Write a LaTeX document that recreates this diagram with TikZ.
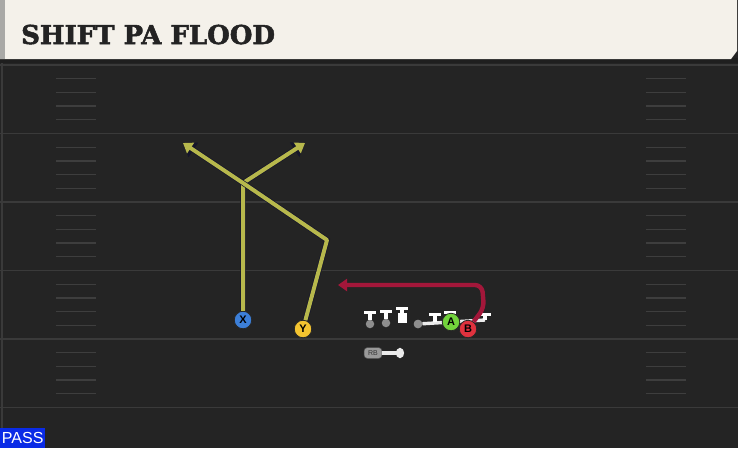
\documentclass[tikz,border=0pt]{standalone}
\usepackage{fontspec}
\usetikzlibrary{arrows.meta,positioning,calc}
\newfontfamily\titlefont{DejaVu Serif}[BoldFeatures={FakeBold=2}]
\newfontfamily\tagfont{Liberation Sans}
\definecolor{fieldbg}{HTML}{242424}
\definecolor{yardgray}{HTML}{3A3A3A}
\definecolor{hashgray}{HTML}{3E3E3E}
\definecolor{cream}{HTML}{F4F1EA}
\definecolor{stripgray}{HTML}{A9A9A6}
\definecolor{titleink}{HTML}{232323}
\definecolor{routeyel}{HTML}{B7B84C}
\definecolor{routered}{HTML}{A3173A}
\definecolor{routeedge}{HTML}{15152A}
\definecolor{xblue}{HTML}{3C7FD8}
\definecolor{yyellow}{HTML}{F4C430}
\definecolor{agreen}{HTML}{72D33C}
\definecolor{bred}{HTML}{E0323E}
\definecolor{passblue}{HTML}{0A2BE6}
\definecolor{olgray}{HTML}{8E8E8E}

\begin{document}
\begin{tikzpicture}[x=1pt, y=-1pt,
    yardline/.style={draw=yardgray, line width=1.8pt},
    hashmark/.style={draw=hashgray, line width=1.3pt},
    player/.style={circle, draw=black!85, line width=0.8pt, minimum size=17.5pt,
      inner sep=0pt, font=\tagfont\bfseries\fontsize{11}{11}\selectfont},
    route/.style={line width=4pt, line join=round, draw=routeyel,
      -{Triangle[length=0pt 2.3, width=0pt 3.1]},
      preaction={draw=routeedge, line width=5.4pt}},
    redroute/.style={line width=4.4pt, line join=round, draw=routered,
      rounded corners=7pt, -{Triangle[length=0pt 2.1, width=0pt 2.8]}},
    block/.style={draw=white, line width=3.2pt, -{Bar[width=12pt, line width=3pt]}},
    motion/.style={draw=white!92!black, line width=3.4pt},
    olman/.style={circle, fill=olgray, minimum size=8.5pt, inner sep=0pt},
    snapper/.style={rectangle, fill=white, minimum width=9pt, minimum height=10pt, inner sep=0pt},
    rbtag/.style={rectangle, rounded corners=3.5pt, fill=olgray!90!white, draw=black!70,
      line width=0.5pt, minimum width=18pt, minimum height=11pt, inner sep=0pt,
      font=\tagfont\fontsize{7}{7}\selectfont, text=black!80}]
  \useasboundingbox (0,0) rectangle (738,448);
  \fill[fieldbg] (0,0) rectangle (738,448);

  % field: yard lines and hash marks
  \foreach \i in {0,...,5}
    \draw[yardline] (0,65+68.5*\i) -- (738,65+68.5*\i);
  \foreach \i in {0,...,4}
    \foreach \k in {1,...,4} {
      \draw[hashmark] (56,65+68.5*\i+13.7*\k) -- (96,65+68.5*\i+13.7*\k);
      \draw[hashmark] (646,65+68.5*\i+13.7*\k) -- (686,65+68.5*\i+13.7*\k);
    }
  \draw[yardgray, line width=2pt] (1.5,59) -- (1.5,448);

  % header
  \fill[black!88] (0,58) rectangle (738,63);
  \fill[cream] (0,0) -- (737,0) -- (737,51) -- (731,59) -- (0,59) -- cycle;
  \fill[stripgray] (0,0) rectangle (5,59);
  \node[anchor=base west, inner sep=0pt, text=titleink,
    font=\titlefont\bfseries\fontsize{26}{26}\selectfont] (title) at (21,44) {SHIFT PA FLOOD};

  % route points
  \coordinate (cross) at (243,183);
  \coordinate (xend) at (305,143);
  \coordinate (ycut) at (327,240);
  \coordinate (yend) at (183,143);
  \coordinate (bturn) at (484,308);
  \coordinate (btop) at (482,285);
  \coordinate (bend) at (338,285);

  % offensive line
  \node[olman] (lt) at (370,324) {};
  \node[olman] (lg) at (386,323) {};
  \node[snapper] (c) at (402,318) {};
  \node[olman] (rg) at (418,324) {};
  \coordinate (rt) at (435,322);
  \coordinate (te) at (450,321);
  \coordinate (wing) at (485,320);
  \draw[block] (lt.north) -- ++(0,-9);
  \draw[block] (lg.north) -- ++(0,-9);
  \draw[block] (c.north) -- ++(0,-6);
  \draw[motion] (rg) -- (wing);
  \node[olman] at (rg) {};
  \draw[block] (rt) -- ++(0,-9);
  \draw[block] (te) -- ++(0,-10);
  \draw[block] (wing) -- ++(0,-7);

  % running back
  \node[rbtag] (rb) at (373,353) {RB};
  \draw[draw=white!92!black, line width=3.4pt, -{Circle[length=8pt, width=10pt]}] (rb.east) -- (404,353);

  % skill players
  \node[player, fill=xblue] (X) at (243,320) {X};
  \node[player, fill=yyellow] (Y) at (303,329) {Y};
  \node[player, fill=agreen] (A) at (451,322) {A};
  \node[player, fill=bred] (B) at (468,329) {B};

  % routes
  \draw[route] (X) -- (cross) -- (xend);
  \draw[route] (Y) -- (ycut) -- (cross) -- (yend);
  \draw[redroute] (B) -- (bturn) -- (btop) -- (bend);

  % play type tag
  \node[anchor=south west, fill=passblue, text=white, inner sep=0pt,
    minimum width=45pt, minimum height=20pt,
    font=\tagfont\fontsize{16}{16}\selectfont] (pass) at (0,448) {PASS};
\end{tikzpicture}
\end{document}
